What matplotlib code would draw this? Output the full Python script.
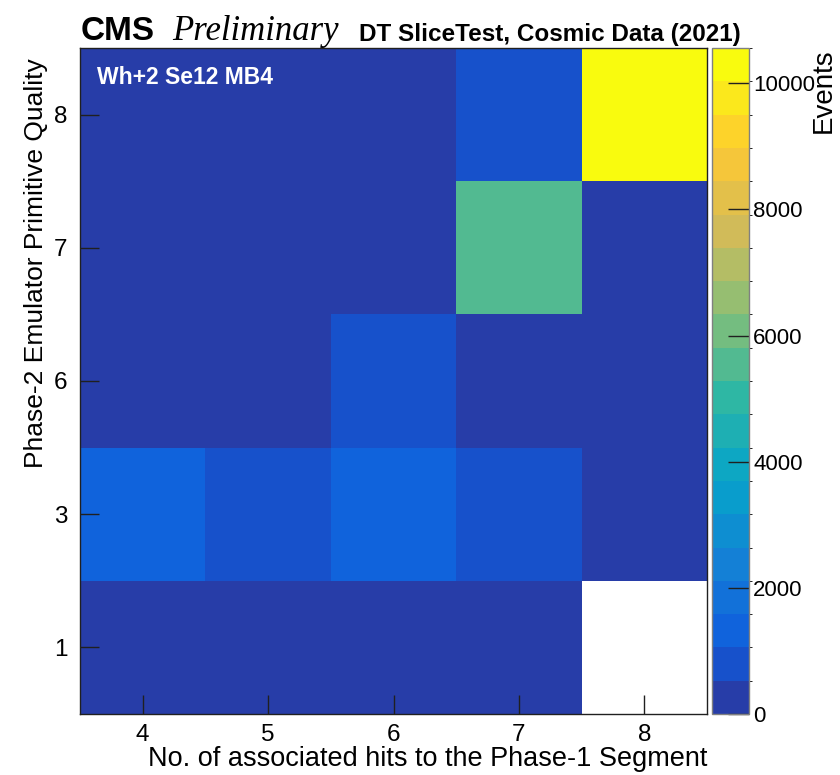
import numpy as np
import matplotlib
matplotlib.use("Agg")
import matplotlib.pyplot as plt
from matplotlib.colors import LinearSegmentedColormap, ListedColormap, BoundaryNorm

# ---- data ----
x_labels = ['4', '5', '6', '7', '8']
y_labels = ['1', '3', '6', '7', '8']
# rows: y categories (1,3,6,7,8); columns: x categories (4..8)
row_q1 = [250, 180, 300, 350, 0]
row_q3 = [1350, 800, 1350, 900, 200]
row_q6 = [150, 120, 850, 300, 150]
row_q7 = [100, 80, 150, 5550, 250]
row_q8 = [60, 50, 120, 850, 10560]
z_max = 10560
n_levels = 20
cbar_ticks = [0, 2000, 4000, 6000, 8000, 10000]

counts = np.array([row_q1, row_q3, row_q6, row_q7, row_q8], dtype=float)
masked = np.ma.masked_where(counts <= 0, counts)

# ROOT kBird palette
stops = np.linspace(0, 1, 9)
red = [0.2082, 0.0592, 0.0780, 0.0232, 0.1802, 0.5301, 0.8186, 0.9956, 0.9764]
green = [0.1664, 0.3599, 0.5041, 0.6419, 0.7178, 0.7492, 0.7328, 0.7862, 0.9832]
blue = [0.5293, 0.8684, 0.8385, 0.7914, 0.6425, 0.4662, 0.3499, 0.1968, 0.0539]
bird = LinearSegmentedColormap.from_list(
    'bird', [(s, (r, g, b)) for s, r, g, b in zip(stops, red, green, blue)], N=255)
cols = [bird(int((i + 0.99) * 255 / n_levels) / 254.0) for i in range(n_levels)]
cmap = ListedColormap(cols)
cmap.set_bad('white')
bounds = np.linspace(0, z_max, n_levels + 1)
norm = BoundaryNorm(bounds, cmap.N)

plt.rcParams['font.family'] = ['Liberation Sans', 'DejaVu Sans']

W, H = 840, 775
fig = plt.figure(figsize=(W / 100, H / 100), dpi=100)

def fx(px):
    return px / W

def fy(py):
    return 1 - py / H

L, R, T, B = 80, 707, 48, 714
ax = fig.add_axes([fx(L), fy(B), fx(R - L), (B - T) / H])
xe = np.arange(len(x_labels) + 1) - 0.5
ye = np.arange(len(y_labels) + 1) - 0.5
mesh = ax.pcolormesh(xe, ye, masked, cmap=cmap, norm=norm, edgecolors='face', linewidth=0)
ax.set_xlim(-0.5, len(x_labels) - 0.5)
ax.set_ylim(-0.5, len(y_labels) - 0.5)
ax.set_xticks(range(len(x_labels)))
ax.set_xticklabels(x_labels)
ax.set_yticks(range(len(y_labels)))
ax.set_yticklabels(y_labels)
ax.tick_params(axis='both', direction='in', length=14, width=1.0, labelsize=17.5,
               top=False, right=False, color='#202020')
ax.tick_params(axis='x', pad=7)
ax.tick_params(axis='y', pad=9)
for sp in ax.spines.values():
    sp.set_linewidth(1.0)
    sp.set_color('#202020')

ax.set_xlabel('No. of associated hits to the Phase-1 Segment', fontsize=19.5, ha='right', x=1.0, labelpad=0)
ax.set_ylabel('Phase-2 Emulator Primitive Quality', fontsize=19, ha='right', y=0.985, labelpad=4)

ax.text(0.027, 0.956, 'Wh+2 Se12 MB4', transform=ax.transAxes, color='white',
        fontsize=16.5, fontweight='bold', va='center', ha='left')

# colorbar
cax = fig.add_axes([fx(712), fy(B), fx(749 - 712), (B - T) / H])
cb = fig.colorbar(mesh, cax=cax, ticks=cbar_ticks)
cb.outline.set_edgecolor('#808080')
cb.outline.set_linewidth(1.0)
cax.tick_params(direction='in', length=15, width=1.0, labelsize=16, color='#202020', pad=3)
cax.set_ylim(0, z_max)
fig.text(fx(837), fy(T), 'Events', rotation=90, fontsize=20, ha='right', va='top')

# header
fig.text(fx(81), fy(40), 'CMS', fontsize=24, fontweight='bold', ha='left', va='baseline')
fig.text(fx(172), fy(40), 'Preliminary', fontsize=25, style='italic',
         family=['Liberation Serif', 'DejaVu Serif'], ha='left', va='baseline')
fig.text(fx(741), fy(41), 'DT SliceTest, Cosmic Data (2021)', fontsize=17.5, fontweight='bold',
         ha='right', va='baseline')

fig.savefig('out.png', dpi=100)
